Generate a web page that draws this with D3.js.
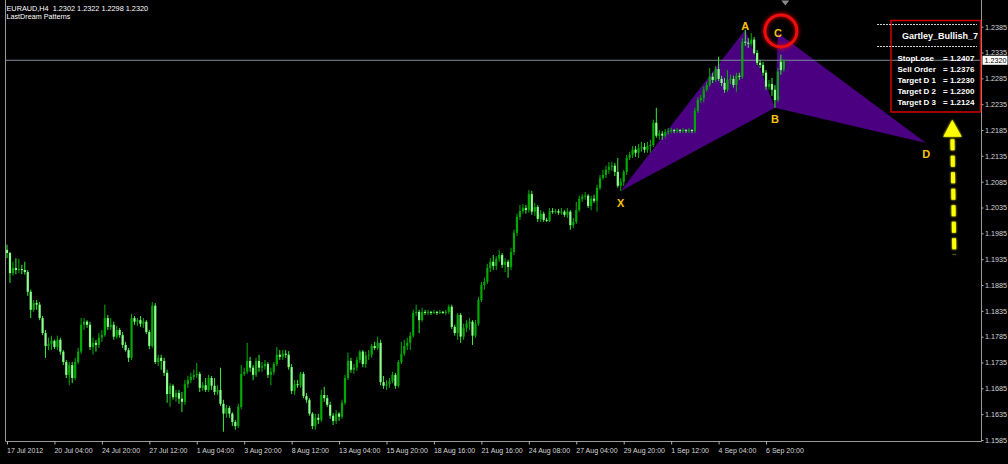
<!DOCTYPE html>
<html>
<head>
<meta charset="utf-8">
<script src="https://cdn.jsdelivr.net/npm/d3@7"></script>
<style>
  html, body { margin: 0; padding: 0; background: #000; }
  svg { display: block; }
  text { font-family: "Liberation Sans", Arial, sans-serif; }
</style>
</head>
<body>
<svg id="chart" width="1008" height="464"></svg>
<script>
// ---- EURAUD H4 candles (oldest first) ----
const symbolTitle = "EURAUD,H4  1.2302 1.2322 1.2298 1.2320";
const indicatorName = "LastDream Patterns";

const opens = [
  1.1953,1.1947,1.1908,1.1918,1.1914,1.1916,1.1914,1.1910,1.1872,1.1837,
  1.1850,1.1847,1.1821,1.1792,1.1767,1.1771,1.1777,1.1765,1.1779,1.1756,
  1.1736,1.1711,1.1730,1.1705,1.1736,1.1756,1.1808,1.1814,1.1808,1.1765,
  1.1773,1.1769,1.1783,1.1788,1.1821,1.1804,1.1808,1.1785,1.1798,1.1788,
  1.1769,1.1759,1.1744,1.1821,1.1814,1.1817,1.1810,1.1814,1.1794,1.1767,
  1.1845,1.1736,1.1744,1.1738,1.1715,1.1674,1.1690,1.1668,1.1676,1.1665,
  1.1659,1.1693,1.1701,1.1707,1.1711,1.1713,1.1686,1.1691,1.1682,1.1705,
  1.1690,1.1678,1.1682,1.1655,1.1636,1.1647,1.1636,1.1620,1.1612,1.1649,
  1.1713,1.1717,1.1738,1.1725,1.1711,1.1738,1.1725,1.1728,1.1732,1.1711,
  1.1717,1.1732,1.1750,1.1746,1.1752,1.1750,1.1726,1.1680,1.1693,1.1691,
  1.1713,1.1670,1.1663,1.1636,1.1612,1.1628,1.1624,1.1672,1.1666,1.1653,
  1.1632,1.1622,1.1636,1.1630,1.1657,1.1705,1.1738,1.1721,1.1725,1.1740,
  1.1756,1.1732,1.1748,1.1750,1.1767,1.1763,1.1773,1.1697,1.1690,1.1693,
  1.1699,1.1711,1.1690,1.1736,1.1752,1.1767,1.1773,1.1787,1.1831,1.1833,
  1.1817,1.1833,1.1831,1.1833,1.1831,1.1833,1.1831,1.1833,1.1831,1.1833,
  1.1843,1.1804,1.1792,1.1827,1.1785,1.1802,1.1810,1.1814,1.1787,1.1810,
  1.1856,1.1885,1.1891,1.1918,1.1930,1.1922,1.1936,1.1943,1.1924,1.1930,
  1.1920,1.1949,1.1986,1.2017,1.2028,1.2034,1.2030,1.2061,1.2027,1.2036,
  1.2013,1.2023,1.2011,1.2009,1.2028,1.2027,1.2028,1.2025,1.2027,1.2021,
  1.2027,1.2001,1.2007,1.2030,1.2052,1.2056,1.2058,1.2038,1.2052,1.2048,
  1.2073,1.2092,1.2098,1.2108,1.2114,1.2116,1.2104,1.2077,1.2085,1.2104,
  1.2131,1.2137,1.2147,1.2141,1.2150,1.2152,1.2147,1.2154,1.2156,1.2199,
  1.2174,1.2178,1.2174,1.2181,1.2183,1.2185,1.2183,1.2185,1.2183,1.2185,
  1.2183,1.2185,1.2183,1.2222,1.2243,1.2247,1.2263,1.2272,1.2288,1.2282,
  1.2303,1.2284,1.2276,1.2263,1.2282,1.2284,1.2272,1.2290,1.2288,1.2356,
  1.2354,1.2352,1.2360,1.2334,1.2315,1.2311,1.2296,1.2269,1.2274,1.2263,
  1.2243,1.2317,1.2302
];

const highs = [
  1.1963,1.1949,1.1930,1.1937,1.1936,1.1924,1.1930,1.1914,1.1876,1.1856,
  1.1856,1.1852,1.1825,1.1798,1.1783,1.1787,1.1779,1.1787,1.1783,1.1759,
  1.1740,1.1736,1.1736,1.1744,1.1763,1.1821,1.1821,1.1817,1.1814,1.1783,
  1.1779,1.1792,1.1798,1.1847,1.1827,1.1821,1.1814,1.1806,1.1802,1.1794,
  1.1775,1.1763,1.1829,1.1825,1.1821,1.1825,1.1821,1.1817,1.1798,1.1852,
  1.1850,1.1750,1.1750,1.1744,1.1721,1.1695,1.1693,1.1682,1.1682,1.1678,
  1.1701,1.1709,1.1715,1.1721,1.1734,1.1717,1.1697,1.1705,1.1711,1.1709,
  1.1705,1.1691,1.1725,1.1663,1.1653,1.1651,1.1639,1.1624,1.1655,1.1730,
  1.1725,1.1773,1.1746,1.1730,1.1744,1.1750,1.1736,1.1740,1.1736,1.1725,
  1.1736,1.1765,1.1759,1.1759,1.1759,1.1757,1.1732,1.1701,1.1701,1.1717,
  1.1717,1.1676,1.1666,1.1639,1.1636,1.1636,1.1682,1.1688,1.1672,1.1659,
  1.1637,1.1643,1.1639,1.1663,1.1711,1.1754,1.1744,1.1732,1.1746,1.1759,
  1.1759,1.1756,1.1759,1.1771,1.1775,1.1785,1.1779,1.1709,1.1701,1.1705,
  1.1717,1.1715,1.1740,1.1775,1.1779,1.1783,1.1794,1.1837,1.1847,1.1837,
  1.1841,1.1837,1.1837,1.1835,1.1837,1.1835,1.1837,1.1835,1.1837,1.1847,
  1.1847,1.1808,1.1831,1.1831,1.1810,1.1817,1.1821,1.1817,1.1817,1.1862,
  1.1891,1.1899,1.1926,1.1937,1.1943,1.1941,1.1953,1.1947,1.1937,1.1934,
  1.1957,1.1992,1.2023,1.2040,1.2042,1.2040,1.2069,1.2067,1.2044,1.2040,
  1.2030,1.2027,1.2015,1.2034,1.2034,1.2032,1.2032,1.2034,1.2030,1.2034,
  1.2030,1.2015,1.2046,1.2058,1.2061,1.2065,1.2061,1.2058,1.2060,1.2079,
  1.2098,1.2108,1.2116,1.2123,1.2123,1.2121,1.2131,1.2092,1.2108,1.2137,
  1.2143,1.2154,1.2154,1.2158,1.2162,1.2160,1.2162,1.2166,1.2205,1.2228,
  1.2185,1.2183,1.2187,1.2189,1.2189,1.2187,1.2189,1.2187,1.2189,1.2187,
  1.2189,1.2187,1.2228,1.2249,1.2253,1.2269,1.2278,1.2305,1.2296,1.2309,
  1.2327,1.2290,1.2286,1.2301,1.2292,1.2290,1.2296,1.2296,1.2363,1.2379,
  1.2363,1.2373,1.2365,1.2340,1.2321,1.2317,1.2301,1.2282,1.2286,1.2272,
  1.2305,1.2331,1.2322
];

const lows = [
  1.1937,1.1889,1.1903,1.1906,1.1908,1.1906,1.1905,1.1864,1.1821,1.1833,
  1.1837,1.1817,1.1788,1.1744,1.1759,1.1759,1.1761,1.1759,1.1750,1.1730,
  1.1705,1.1691,1.1695,1.1701,1.1732,1.1752,1.1798,1.1802,1.1759,1.1750,
  1.1756,1.1763,1.1775,1.1785,1.1798,1.1798,1.1779,1.1781,1.1783,1.1763,
  1.1756,1.1736,1.1740,1.1808,1.1806,1.1804,1.1802,1.1790,1.1761,1.1763,
  1.1732,1.1728,1.1721,1.1709,1.1657,1.1649,1.1663,1.1659,1.1655,1.1639,
  1.1653,1.1686,1.1695,1.1701,1.1705,1.1678,1.1680,1.1678,1.1678,1.1682,
  1.1672,1.1672,1.1651,1.1601,1.1628,1.1628,1.1612,1.1605,1.1608,1.1645,
  1.1709,1.1713,1.1717,1.1701,1.1707,1.1717,1.1717,1.1721,1.1705,1.1691,
  1.1711,1.1728,1.1740,1.1740,1.1744,1.1721,1.1674,1.1672,1.1686,1.1686,
  1.1666,1.1657,1.1632,1.1606,1.1605,1.1616,1.1620,1.1659,1.1649,1.1626,
  1.1614,1.1616,1.1622,1.1626,1.1653,1.1701,1.1715,1.1713,1.1719,1.1734,
  1.1726,1.1725,1.1740,1.1744,1.1759,1.1759,1.1691,1.1684,1.1682,1.1686,
  1.1695,1.1684,1.1686,1.1732,1.1748,1.1759,1.1759,1.1783,1.1825,1.1792,
  1.1814,1.1827,1.1827,1.1827,1.1829,1.1827,1.1829,1.1829,1.1827,1.1829,
  1.1800,1.1787,1.1779,1.1773,1.1779,1.1794,1.1798,1.1769,1.1783,1.1806,
  1.1852,1.1876,1.1887,1.1910,1.1914,1.1914,1.1930,1.1918,1.1910,1.1899,
  1.1914,1.1943,1.1980,1.2011,1.2023,1.2023,1.2025,1.2021,1.2019,1.2007,
  1.2007,1.2007,1.2007,1.2007,1.2023,1.2023,1.2021,1.2021,1.2017,1.2015,
  1.1992,1.1995,1.2003,1.2027,1.2046,1.2050,1.2034,1.2030,1.2044,1.2027,
  1.2069,1.2089,1.2092,1.2100,1.2106,1.2096,1.2073,1.2067,1.2077,1.2098,
  1.2127,1.2131,1.2133,1.2131,1.2143,1.2141,1.2141,1.2141,1.2152,1.2170,
  1.2166,1.2166,1.2170,1.2176,1.2179,1.2179,1.2179,1.2179,1.2179,1.2179,
  1.2179,1.2179,1.2179,1.2218,1.2238,1.2239,1.2259,1.2269,1.2276,1.2278,
  1.2280,1.2270,1.2257,1.2259,1.2274,1.2267,1.2259,1.2282,1.2284,1.2348,
  1.2344,1.2348,1.2331,1.2311,1.2305,1.2290,1.2263,1.2263,1.2251,1.2228,
  1.2239,1.2292,1.2298
];

const closes = [
  1.1947,1.1908,1.1918,1.1914,1.1916,1.1914,1.1910,1.1872,1.1837,1.1850,
  1.1847,1.1821,1.1792,1.1767,1.1771,1.1777,1.1765,1.1779,1.1756,1.1736,
  1.1711,1.1730,1.1705,1.1736,1.1756,1.1808,1.1814,1.1808,1.1765,1.1773,
  1.1769,1.1783,1.1788,1.1821,1.1804,1.1808,1.1785,1.1798,1.1788,1.1769,
  1.1759,1.1744,1.1821,1.1814,1.1817,1.1810,1.1814,1.1794,1.1767,1.1845,
  1.1736,1.1744,1.1738,1.1715,1.1674,1.1690,1.1668,1.1676,1.1665,1.1659,
  1.1693,1.1701,1.1707,1.1711,1.1713,1.1686,1.1691,1.1682,1.1705,1.1690,
  1.1678,1.1682,1.1655,1.1636,1.1647,1.1636,1.1620,1.1612,1.1649,1.1713,
  1.1717,1.1738,1.1725,1.1711,1.1738,1.1725,1.1728,1.1732,1.1711,1.1717,
  1.1732,1.1750,1.1746,1.1752,1.1750,1.1726,1.1680,1.1693,1.1691,1.1713,
  1.1670,1.1663,1.1636,1.1612,1.1628,1.1624,1.1672,1.1666,1.1653,1.1632,
  1.1622,1.1636,1.1630,1.1657,1.1705,1.1738,1.1721,1.1725,1.1740,1.1756,
  1.1732,1.1748,1.1750,1.1767,1.1763,1.1773,1.1697,1.1690,1.1693,1.1699,
  1.1711,1.1690,1.1736,1.1752,1.1767,1.1773,1.1787,1.1831,1.1833,1.1817,
  1.1833,1.1831,1.1833,1.1831,1.1833,1.1831,1.1833,1.1831,1.1833,1.1843,
  1.1804,1.1792,1.1827,1.1785,1.1802,1.1810,1.1814,1.1787,1.1810,1.1856,
  1.1885,1.1891,1.1918,1.1930,1.1922,1.1936,1.1943,1.1924,1.1930,1.1920,
  1.1949,1.1986,1.2017,1.2028,1.2034,1.2030,1.2061,1.2027,1.2036,1.2013,
  1.2023,1.2011,1.2009,1.2028,1.2027,1.2028,1.2025,1.2027,1.2021,1.2027,
  1.2001,1.2007,1.2030,1.2052,1.2056,1.2058,1.2038,1.2052,1.2048,1.2073,
  1.2092,1.2098,1.2108,1.2114,1.2116,1.2104,1.2077,1.2085,1.2104,1.2131,
  1.2137,1.2147,1.2141,1.2150,1.2152,1.2147,1.2154,1.2156,1.2199,1.2174,
  1.2178,1.2174,1.2181,1.2183,1.2185,1.2183,1.2185,1.2183,1.2185,1.2183,
  1.2185,1.2183,1.2222,1.2243,1.2247,1.2263,1.2272,1.2288,1.2282,1.2303,
  1.2284,1.2276,1.2263,1.2282,1.2284,1.2272,1.2290,1.2288,1.2356,1.2354,
  1.2352,1.2360,1.2334,1.2315,1.2311,1.2296,1.2269,1.2274,1.2263,1.2243,
  1.2298,1.2301,1.2320
];

// time axis: one label every 16 bars
const timeLabels = [
  "17 Jul 2012","20 Jul 04:00","24 Jul 20:00","27 Jul 12:00","1 Aug 04:00",
  "3 Aug 20:00","8 Aug 12:00","13 Aug 04:00","15 Aug 20:00","18 Aug 16:00",
  "21 Aug 16:00","24 Aug 08:00","27 Aug 04:00","29 Aug 20:00","1 Sep 12:00",
  "4 Sep 04:00","6 Sep 20:00"
];
const barsPerLabel = 16;

// price scale labels
const priceTicks = [
  1.1585,1.1635,1.1685,1.1735,1.1785,1.1835,1.1885,1.1935,1.1985,
  1.2035,1.2085,1.2135,1.2185,1.2235,1.2285,1.2335,1.2385
];
const lastPrice = 1.2320;

// Gartley pattern pivots (bar index, price)
const pivotNames = ["X","A","B","C","D"];
const pivotBars = [207, 249, 259, 260, 310];
const pivotPrices = [1.2067, 1.2379, 1.2228, 1.2373, 1.2160];

// pattern info panel
const patternTitle = "Gartley_Bullish_7";
const levelNames = ["StopLose","Sell Order","Target D 1","Target D 2","Target D 3"];
const levelValues = [1.2407, 1.2376, 1.2230, 1.2200, 1.2124];

// projected move arrow (bar index, from price, to price)
const arrowBars = [319.5, 318.8];
const arrowPrices = [1.1943, 1.2205];

// ---------------------------------------------------------------
const svg = d3.select("#chart");
const frameLeft = 5.5, frameRight = 981.5, frameBottom = 441.5;
const barStep = 2.965;

const x = d3.scaleLinear().domain([0, closes.length - 1])
  .range([7, 7 + (closes.length - 1) * barStep]);
const y = d3.scaleLinear().domain([1.1585, 1.2385]).range([440, 26.7]);

svg.append("rect").attr("width", 1008).attr("height", 464).attr("fill", "#000");

const defs = svg.append("defs");
const redGlow = defs.append("filter").attr("id", "redGlow")
  .attr("x", "-50%").attr("y", "-50%").attr("width", "200%").attr("height", "200%");
redGlow.append("feGaussianBlur").attr("in", "SourceGraphic").attr("stdDeviation", 2).attr("result", "b");
const m1 = redGlow.append("feMerge");
m1.append("feMergeNode").attr("in", "b");
m1.append("feMergeNode").attr("in", "SourceGraphic");

const yellowGlow = defs.append("filter").attr("id", "yellowGlow")
  .attr("x", "-50%").attr("y", "-20%").attr("width", "200%").attr("height", "140%");
yellowGlow.append("feGaussianBlur").attr("in", "SourceGraphic").attr("stdDeviation", 1.2).attr("result", "b");
const m2 = yellowGlow.append("feMerge");
m2.append("feMergeNode").attr("in", "b");
m2.append("feMergeNode").attr("in", "SourceGraphic");

// ---- pattern triangles X-A-B and B-C-D ----
const pivots = pivotNames.map((n, k) => ({ name: n, bar: pivotBars[k], price: pivotPrices[k] }));
const P = n => pivots.find(p => p.name === n);
const tri = [["X","A","B"], ["B","C","D"]];
svg.append("g").selectAll("path").data(tri).join("path")
  .attr("d", t => d3.line().x(p => x(p.bar)).y(p => y(p.price))(t.map(P)) + "Z")
  .attr("fill", "#4b0082");

// ---- bid line ----
svg.append("line")
  .attr("x1", frameLeft).attr("x2", frameRight)
  .attr("y1", y(lastPrice)).attr("y2", y(lastPrice))
  .attr("stroke", "#7d8c99").attr("stroke-width", 1);

// ---- candles ----
const candles = closes.map((c, i) => ({ i, o: opens[i], h: highs[i], l: lows[i], c }));
const bull = d => d.c >= d.o;
const cg = svg.append("g");
cg.selectAll("line").data(candles).join("line")
  .attr("x1", d => x(d.i)).attr("x2", d => x(d.i))
  .attr("y1", d => y(d.h)).attr("y2", d => y(d.l))
  .attr("stroke", d => bull(d) ? "#00b000" : "#33ee33")
  .attr("stroke-width", 1);
cg.selectAll("rect").data(candles).join("rect")
  .attr("x", d => x(d.i) - 1.1)
  .attr("width", 2.2)
  .attr("y", d => y(Math.max(d.o, d.c)))
  .attr("height", d => Math.max(1, Math.abs(y(d.o) - y(d.c))))
  .attr("fill", d => bull(d) ? "#00a800" : "#8cff8c");

// ---- pivot letters ----
const letterOffset = { X: 12, A: -4, B: 11, C: 0, D: 11 };
svg.append("g").selectAll("text").data(pivots).join("text")
  .attr("x", p => x(p.bar))
  .attr("y", p => y(p.price) + letterOffset[p.name])
  .attr("dy", "0.36em")
  .attr("text-anchor", "middle")
  .attr("font-size", "11px").attr("font-weight", "bold")
  .attr("fill", "#f9c20a")
  .text(p => p.name);

// ---- circle around C ----
svg.append("circle")
  .attr("cx", x(P("C").bar) + 3).attr("cy", y(P("C").price) - 2)
  .attr("r", 16)
  .attr("fill", "none").attr("stroke", "#ee1111").attr("stroke-width", 3)
  .attr("filter", "url(#redGlow)");

// ---- projected move arrow (dashes start right under the head) ----
const ax0 = x(arrowBars[0]), ay0 = y(arrowPrices[0]);
const ax1 = x(arrowBars[1]), ay1 = y(arrowPrices[1]);
const arrowG = svg.append("g").attr("filter", "url(#yellowGlow)");
arrowG.append("line")
  .attr("x1", ax1 + 0.2).attr("y1", ay1 + 19.5).attr("x2", ax0).attr("y2", ay0)
  .attr("stroke", "#ffff00").attr("stroke-width", 4)
  .attr("stroke-dasharray", "11,5.5");
arrowG.append("path")
  .attr("d", `M${ax1},${ay1} L${ax1 + 9.5},${ay1 + 17} L${ax1 - 9},${ay1 + 17} Z`)
  .attr("fill", "#ffff00");

// ---- frame ----
const frame = svg.append("g").attr("stroke", "#9a9a9a").attr("stroke-width", 1);
frame.append("line").attr("x1", frameLeft).attr("x2", frameLeft).attr("y1", 0).attr("y2", frameBottom);
frame.append("line").attr("x1", frameRight).attr("x2", frameRight).attr("y1", 0).attr("y2", frameBottom);
frame.append("line").attr("x1", frameLeft).attr("x2", frameRight).attr("y1", frameBottom).attr("y2", frameBottom);

// chart shift marker
const sx = x(closes.length - 1) + 1.5;
svg.append("path").attr("d", `M${sx - 4},0.5 L${sx + 4},0.5 L${sx},5.5 Z`).attr("fill", "#8a8a8a");

// ---- price axis ----
const yAxis = d3.axisRight(y).tickValues(priceTicks).tickSize(2).tickPadding(1.5)
  .tickFormat(d3.format(".4f"));
svg.append("g").attr("transform", `translate(${frameRight},0)`).call(yAxis)
  .call(g => g.select(".domain").remove())
  .call(g => g.selectAll("line").attr("stroke", "#b0b0b0"))
  .call(g => g.selectAll("text").attr("fill", "#d6d6d6")
    .attr("font-size", "7.2px").attr("font-family", "Liberation Sans, Arial, sans-serif"));

// last price tag
const tag = svg.append("g").attr("transform", `translate(${frameRight + 1},${y(lastPrice)})`);
tag.append("rect").attr("x", 0).attr("y", -4.5).attr("width", 25).attr("height", 9).attr("fill", "#ffffff");
tag.append("text").attr("x", 2).attr("y", 0).attr("dy", "0.35em")
  .attr("font-size", "7.2px").attr("fill", "#000").text(d3.format(".4f")(lastPrice));

// ---- time axis ----
const tickBars = timeLabels.map((_, k) => k * barsPerLabel);
const xAxis = d3.axisBottom(x).tickValues(tickBars).tickSize(3).tickPadding(3.5)
  .tickFormat((d, k) => timeLabels[k]);
svg.append("g").attr("transform", `translate(0,${frameBottom})`).call(xAxis)
  .call(g => g.select(".domain").remove())
  .call(g => g.selectAll("line").attr("stroke", "#b0b0b0"))
  .call(g => g.selectAll("text").attr("fill", "#d6d6d6").attr("text-anchor", "start")
    .attr("x", -0.5)
    .attr("font-size", "7px").attr("font-family", "Liberation Sans, Arial, sans-serif"));

// ---- symbol header ----
svg.append("text").attr("x", 6.5).attr("y", 10.5).attr("fill", "#fff")
  .attr("font-size", "7.3px").style("white-space", "pre").text(symbolTitle);
svg.append("text").attr("x", 6.5).attr("y", 19.3).attr("fill", "#fff")
  .attr("font-size", "7.2px").text(indicatorName);

// ---- pattern info panel ----
const panel = svg.append("g");
panel.append("rect").attr("x", 891).attr("y", 20.5).attr("width", 89.5).attr("height", 91.5)
  .attr("fill", "none").attr("stroke", "#d40000").attr("stroke-width", 1.5);
panel.selectAll("line.sep").data([24.5, 46.5]).join("line").attr("class", "sep")
  .attr("x1", 877).attr("x2", 977).attr("y1", d => d).attr("y2", d => d)
  .attr("stroke", "#d0d0d0").attr("stroke-width", 1).attr("stroke-dasharray", "2,1");
panel.append("text").attr("x", 978).attr("y", 38.5).attr("text-anchor", "end")
  .attr("fill", "#fff").attr("font-size", "9px").attr("font-weight", "bold")
  .text(patternTitle);
const rows = panel.selectAll("g.row").data(levelNames).join("g").attr("class", "row")
  .attr("transform", (d, k) => `translate(0,${60.8 + k * 11})`);
rows.append("text").attr("x", 897.5).attr("fill", "#fff")
  .attr("font-size", "8px").attr("font-weight", "bold").text(d => d);
rows.append("text").attr("x", 943).attr("fill", "#fff")
  .attr("font-size", "8px").attr("font-weight", "bold").style("white-space", "pre")
  .text((d, k) => "= " + d3.format(".4f")(levelValues[k]));
</script>
</body>
</html>
